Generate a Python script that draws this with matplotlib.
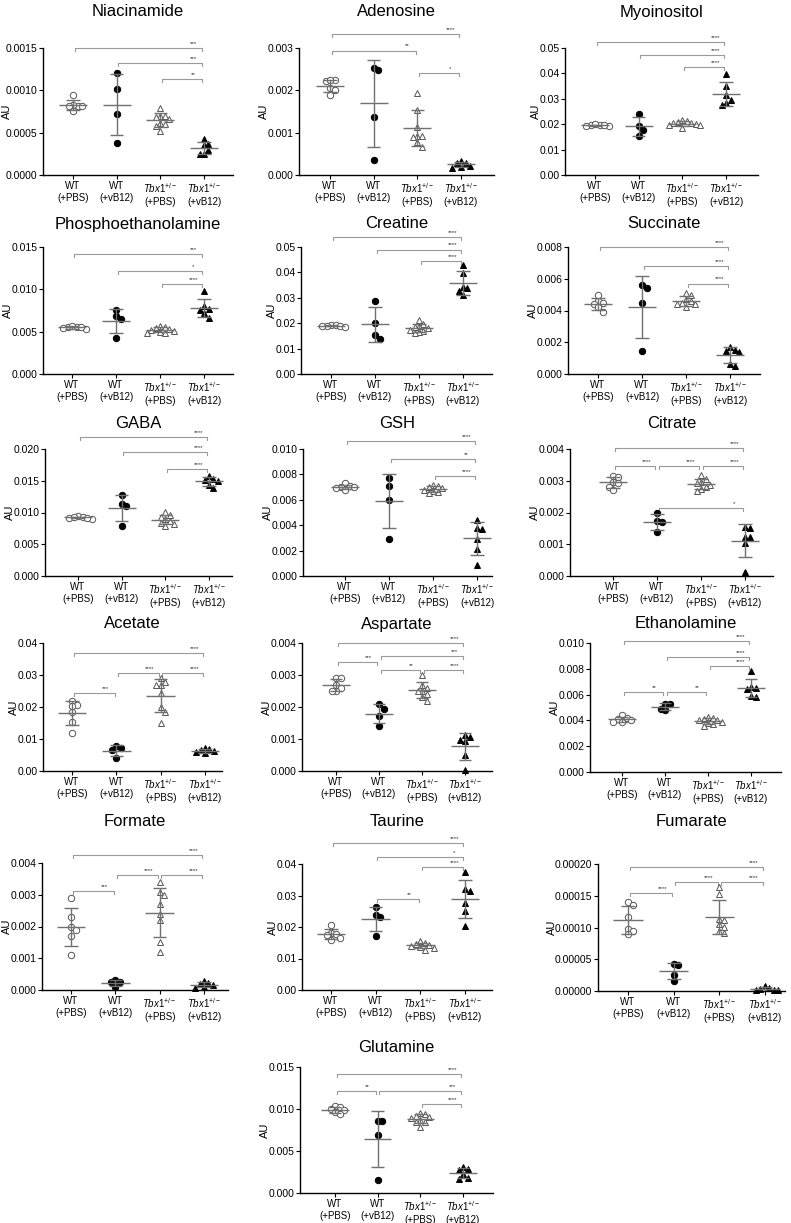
import numpy as np
import matplotlib
matplotlib.use("Agg")
import matplotlib.pyplot as plt

plt.rcParams['font.family'] = ['Liberation Sans', 'DejaVu Sans']
plt.rcParams['mathtext.fontset'] = 'custom'
plt.rcParams['mathtext.rm'] = 'Liberation Sans'
plt.rcParams['mathtext.it'] = 'Liberation Sans:italic'

# group labels on the x axis
groups = ["WT\n(+PBS)", "WT\n(+vB12)",
          r"$\mathit{Tbx1}^{+/-}$" + "\n(+PBS)", r"$\mathit{Tbx1}^{+/-}$" + "\n(+vB12)"]

# values per metabolite: [WT PBS, WT vB12, Tbx1 PBS, Tbx1 vB12]
niacinamide = [[0.00094, 0.00082, 0.00083, 0.00081, 0.00082, 0.00076],
               [0.00121, 0.00101, 0.00072, 0.00038],
               [0.00079, 0.0007, 0.0007, 0.00069, 0.00066, 0.00062, 0.0006, 0.00058, 0.00052],
               [0.00043, 0.00037, 0.00035, 0.00029, 0.00025, 0.00025]]
adenosine = [[0.00224, 0.00221, 0.00225, 0.00205, 0.00189, 0.002],
             [0.00249, 0.00253, 0.00138, 0.00036],
             [0.00193, 0.00154, 0.00113, 0.00092, 0.0009, 0.00092, 0.00079, 0.00067],
             [0.00029, 0.00028, 0.00034, 0.0002, 0.00017, 0.00022]]
myoinositol = [[0.0196, 0.0198, 0.0193, 0.0195, 0.0199, 0.0194],
               [0.024, 0.0178, 0.0155, 0.0192],
               [0.0212, 0.0208, 0.0205, 0.0203, 0.02, 0.0198, 0.0195, 0.0185, 0.0215],
               [0.0399, 0.0352, 0.0314, 0.0297, 0.0277, 0.0282]]
phosphoethanolamine = [[0.0056, 0.0055, 0.0054, 0.0057, 0.0053, 0.0055],
                       [0.0076, 0.0068, 0.0065, 0.0042],
                       [0.0057, 0.0055, 0.0054, 0.0053, 0.0052, 0.0051, 0.005, 0.0049, 0.0048],
                       [0.0098, 0.008, 0.0076, 0.0077, 0.0072, 0.0066]]
creatine = [[0.0192, 0.019, 0.0188, 0.0191, 0.0189, 0.0187],
            [0.0289, 0.02, 0.0154, 0.0138],
            [0.0212, 0.0195, 0.019, 0.0185, 0.018, 0.0175, 0.017, 0.0165, 0.016],
            [0.0431, 0.0396, 0.0337, 0.0343, 0.0326, 0.031]]
succinate = [[0.0046, 0.0044, 0.0045, 0.005, 0.0042, 0.0039],
             [0.0054, 0.0056, 0.0045, 0.00142],
             [0.0051, 0.005, 0.0046, 0.0045, 0.0044, 0.0047, 0.0044, 0.0042],
             [0.0017, 0.00146, 0.00136, 0.0015, 0.00065, 0.00048]]
gaba = [[0.0094, 0.0093, 0.0091, 0.009, 0.0092, 0.0093],
        [0.0128, 0.0113, 0.011, 0.0079],
        [0.0101, 0.0096, 0.0093, 0.0089, 0.0086, 0.0084, 0.0082, 0.0079],
        [0.0157, 0.0153, 0.0151, 0.015, 0.0139, 0.0143]]
gsh = [[0.0073, 0.0071, 0.007, 0.0069, 0.0068, 0.007],
       [0.0077, 0.0071, 0.006, 0.0029],
       [0.0072, 0.0071, 0.007, 0.0069, 0.0068, 0.0067, 0.0066, 0.0065],
       [0.0044, 0.0037, 0.0038, 0.0029, 0.0021, 0.0009]]
citrate = [[0.00315, 0.00312, 0.00297, 0.00294, 0.0028, 0.0027],
           [0.002, 0.00173, 0.0017, 0.0014],
           [0.00318, 0.00304, 0.00297, 0.00292, 0.00287, 0.0028, 0.00273, 0.00269],
           [0.00153, 0.00152, 0.00122, 0.00124, 0.00105, 0.00014]]
acetate = [[0.0219, 0.0206, 0.0202, 0.0183, 0.0154, 0.012],
           [0.0079, 0.0071, 0.0066, 0.004],
           [0.029, 0.0278, 0.0269, 0.0268, 0.0245, 0.02, 0.0185, 0.015],
           [0.0072, 0.0069, 0.0066, 0.0062, 0.0058, 0.0055]]
aspartate = [[0.0029, 0.0029, 0.0027, 0.0026, 0.0025, 0.0025],
             [0.0021, 0.00195, 0.00172, 0.0014],
             [0.003, 0.0027, 0.0026, 0.0025, 0.0025, 0.0024, 0.0023, 0.0022],
             [0.00114, 0.00106, 0.00098, 0.00093, 0.0005, 0.00004]]
ethanolamine = [[0.0044, 0.0042, 0.0041, 0.004, 0.0039, 0.0039],
                [0.0053, 0.0053, 0.0049, 0.0048],
                [0.0043, 0.0042, 0.0041, 0.004, 0.004, 0.0039, 0.0038, 0.0037, 0.0036],
                [0.0078, 0.0066, 0.0065, 0.0064, 0.0059, 0.0058]]
formate = [[0.0029, 0.0023, 0.002, 0.0019, 0.0017, 0.0011],
           [0.00025, 0.00008, 0.00025, 0.00032],
           [0.0034, 0.0031, 0.003, 0.0027, 0.0024, 0.0022, 0.0015, 0.0012],
           [0.00028, 0.00022, 0.0002, 0.00015, 0.0001, 0.00006]]
taurine = [[0.0205, 0.018, 0.0177, 0.0176, 0.0165, 0.0158],
           [0.0263, 0.0238, 0.0232, 0.0171],
           [0.0155, 0.015, 0.0146, 0.0143, 0.014, 0.0137, 0.0133, 0.0128],
           [0.0376, 0.032, 0.0315, 0.0275, 0.0252, 0.0203]]
fumarate = [[0.00014, 0.000135, 0.000117, 0.000098, 0.000094, 0.000089],
            [0.000042, 0.000041, 0.000025, 0.000016],
            [0.000164, 0.000153, 0.000114, 0.000112, 0.000105, 0.000101, 0.000095, 0.000092],
            [0.000008, 0.000004, 0.000003, 0.000002, 0.000001, 0.000001]]
glutamine = [[0.0104, 0.0102, 0.01, 0.0099, 0.0097, 0.0094],
             [0.0086, 0.0086, 0.0069, 0.0016],
             [0.0095, 0.0094, 0.0092, 0.009, 0.0089, 0.0087, 0.0085, 0.0084, 0.0079],
             [0.0031, 0.0028, 0.0027, 0.0023, 0.0018, 0.0017]]

# significance brackets: (group a, group b, level, stars)
niacinamide_sig = [(0, 3, 0.0015, '***'), (1, 3, 0.00132, '***'), (2, 3, 0.00113, '**')]
adenosine_sig = [(0, 3, 0.00332, '****'), (0, 2, 0.00294, '**'), (2, 3, 0.00242, '*')]
myoinositol_sig = [(0, 3, 0.0524, '****'), (1, 3, 0.0474, '****'), (2, 3, 0.0425, '****')]
phosphoethanolamine_sig = [(0, 3, 0.01414, '***'), (1, 3, 0.0122, '*'), (2, 3, 0.0106, '****')]
creatine_sig = [(0, 3, 0.0539, '****'), (1, 3, 0.049, '****'), (2, 3, 0.0445, '****')]
succinate_sig = [(0, 3, 0.008, '****'), (1, 3, 0.0068, '****'), (2, 3, 0.0057, '****')]
gaba_sig = [(0, 3, 0.0219, '****'), (1, 3, 0.0195, '****'), (2, 3, 0.0168, '****')]
gsh_sig = [(0, 3, 0.01063, '****'), (1, 3, 0.0092, '**'), (2, 3, 0.0079, '****')]
citrate_sig = [(0, 3, 0.00403, '****'), (0, 1, 0.00347, '****'), (1, 2, 0.00347, '****'),
               (2, 3, 0.00347, '****'), (1, 3, 0.00214, '*')]
acetate_sig = [(0, 3, 0.0369, '****'), (1, 2, 0.0306, '****'), (2, 3, 0.0306, '****'),
               (0, 1, 0.0244, '***')]
aspartate_sig = [(0, 3, 0.004, '****'), (1, 3, 0.00359, '***'), (0, 1, 0.00342, '***'),
                 (1, 2, 0.00316, '**'), (2, 3, 0.00316, '****')]
ethanolamine_sig = [(0, 3, 0.01018, '****'), (1, 3, 0.0089, '****'), (2, 3, 0.00818, '****'),
                    (0, 1, 0.0062, '**'), (1, 2, 0.0062, '**')]
formate_sig = [(0, 3, 0.00424, '****'), (1, 2, 0.00361, '****'), (2, 3, 0.00361, '****'),
               (0, 1, 0.00311, '***')]
taurine_sig = [(0, 3, 0.0468, '****'), (1, 3, 0.0421, '*'), (2, 3, 0.0389, '****'),
               (1, 2, 0.0288, '**')]
fumarate_sig = [(0, 3, 0.000195, '****'), (1, 2, 0.000172, '****'), (2, 3, 0.000172, '****'),
                (0, 1, 0.000154, '****')]
glutamine_sig = [(0, 3, 0.01417, '****'), (0, 1, 0.0121, '**'), (1, 3, 0.0121, '***'),
                 (2, 3, 0.0106, '****')]

# panel list: title, data, brackets, y top, y step, decimals
panels = [
    ("Niacinamide", niacinamide, niacinamide_sig, 0.0015, 0.0005, 4),
    ("Adenosine", adenosine, adenosine_sig, 0.003, 0.001, 3),
    ("Myoinositol", myoinositol, myoinositol_sig, 0.05, 0.01, 2),
    ("Phosphoethanolamine", phosphoethanolamine, phosphoethanolamine_sig, 0.015, 0.005, 3),
    ("Creatine", creatine, creatine_sig, 0.05, 0.01, 2),
    ("Succinate", succinate, succinate_sig, 0.008, 0.002, 3),
    ("GABA", gaba, gaba_sig, 0.02, 0.005, 3),
    ("GSH", gsh, gsh_sig, 0.01, 0.002, 3),
    ("Citrate", citrate, citrate_sig, 0.004, 0.001, 3),
    ("Acetate", acetate, acetate_sig, 0.04, 0.01, 2),
    ("Aspartate", aspartate, aspartate_sig, 0.004, 0.001, 3),
    ("Ethanolamine", ethanolamine, ethanolamine_sig, 0.01, 0.002, 3),
    ("Formate", formate, formate_sig, 0.004, 0.001, 3),
    ("Taurine", taurine, taurine_sig, 0.04, 0.01, 2),
    ("Fumarate", fumarate, fumarate_sig, 0.0002, 0.00005, 5),
    ("Glutamine", glutamine, glutamine_sig, 0.015, 0.005, 3),
]

# pixel boxes: left spine, right end, bottom, top, first group x, last group x, title y
boxes = [
    (43, 233, 175, 48, 73, 204, 12), (299, 494, 175, 48, 330, 461, 12), (565, 758, 175, 48, 595, 726, 12),
    (43, 233, 374, 247, 72, 204, 224), (301, 492, 374, 247, 331, 463, 224), (568, 760, 374, 247, 598, 730, 224),
    (45, 232, 576, 449, 78, 209, 423), (303, 492, 576, 449, 345, 477, 423), (570, 773, 576, 449, 613, 745, 423),
    (43, 222, 771, 643, 72, 205, 624), (302, 492, 771, 643, 336, 465, 624), (590, 781, 772, 643, 622, 751, 624),
    (42, 228, 990, 863, 71, 204, 822), (302, 492, 990, 864, 331, 465, 822), (598, 785, 991, 864, 628, 765, 822),
    (300, 493, 1193, 1067, 335, 463, 1048),
]

W, H = 791, 1223
MARK_PX = 6.0


def swarm(vals, ppv, ppc):
    # spread points that share a row sideways (pixel space), GraphPad-like
    y = np.asarray(vals) * ppv
    offs = np.zeros(len(y))
    placed = []
    hx, vy = 0.75 * MARK_PX, 0.9 * MARK_PX
    steps = [0]
    for k in range(1, 12):
        steps += [k * hx / 2, -k * hx / 2]
    for i in np.argsort(-y):
        for s in steps:
            if all(abs(s - px) >= hx or abs(y[i] - py) >= vy for px, py in placed):
                offs[i] = s
                placed.append((s, y[i]))
                break
    return offs / ppc


fig = plt.figure(figsize=(W / 100, H / 100), dpi=100)

markers = ['o', 'o', '^', '^']
faces = ['white', 'black', 'white', 'black']
edges = ['#555555', 'black', '#555555', 'black']
axes = []

for (name, data, sig, ytop, step, dec), (L, R, B, T, c0, c3, ty) in zip(panels, boxes):
    ax = fig.add_axes([L / W, 1 - B / H, (R - L) / W, (B - T) / H])
    axes.append((ax, L, R))
    ppc = (c3 - c0) / 3.0
    ppv = (B - T) / ytop
    ax.set_xlim((L - c0) / ppc, (R - c0) / ppc)
    ax.set_ylim(0, ytop)

    for g, vals in enumerate(data):
        vals = np.array(vals)
        offs = swarm(vals, ppv, ppc)
        ax.plot(g + offs, vals, linestyle='none', marker=markers[g], ms=4.6,
                mfc=faces[g], mec=edges[g], mew=0.7, clip_on=False, zorder=3)
        m = vals.mean()
        s = vals.std(ddof=1)
        ax.hlines(m, g - 0.32, g + 0.32, color='#707070', lw=1.0, zorder=4)
        ax.vlines(g, m - s, m + s, color='#707070', lw=1.0, zorder=4)
        ax.hlines([m - s, m + s], g - 0.15, g + 0.15, color='#707070', lw=1.0, zorder=4)

    # significance brackets
    tick = 3.0 / ppv
    for a, b, lev, lab in sig:
        x0, x1 = a + 0.04, b - 0.04
        ax.plot([x0, x0, x1, x1], [lev - tick, lev, lev, lev - tick],
                color='#9a9a9a', lw=0.8, clip_on=False)
        ax.text(x1 - 0.2, lev + 2.0 / ppv, lab, fontsize=4.5, color='#333333',
                ha='center', va='bottom')

    yt = np.arange(0, ytop + step / 2, step)
    ax.set_yticks(yt)
    ax.set_yticklabels([f"{v:.{dec}f}" for v in yt])
    ax.set_xticks(range(4))
    ax.set_xticklabels(groups)
    ax.tick_params(length=3, width=0.8, labelsize=7, pad=1.5)
    ax.tick_params(axis='y', labelsize=7.5, pad=1)
    ax.set_ylabel("AU", fontsize=8)
    ax.spines[['top', 'right']].set_visible(False)
    ax.spines[['left', 'bottom']].set_linewidth(1.0)

    fig.text((L + R) / 2 / W, 1 - ty / H, name, fontsize=12, ha='center', va='center')

# put "AU" right next to the tick labels, keeping it inside the figure
fig.canvas.draw()
renderer = fig.canvas.get_renderer()
for ax, L, R in axes:
    left = min(t.get_window_extent(renderer).x0 for t in ax.get_yticklabels())
    xr = max(left + 2, 12)
    ax.yaxis.set_label_coords((xr - L) / (R - L), 0.5)

plt.savefig("out.png", dpi=100)
